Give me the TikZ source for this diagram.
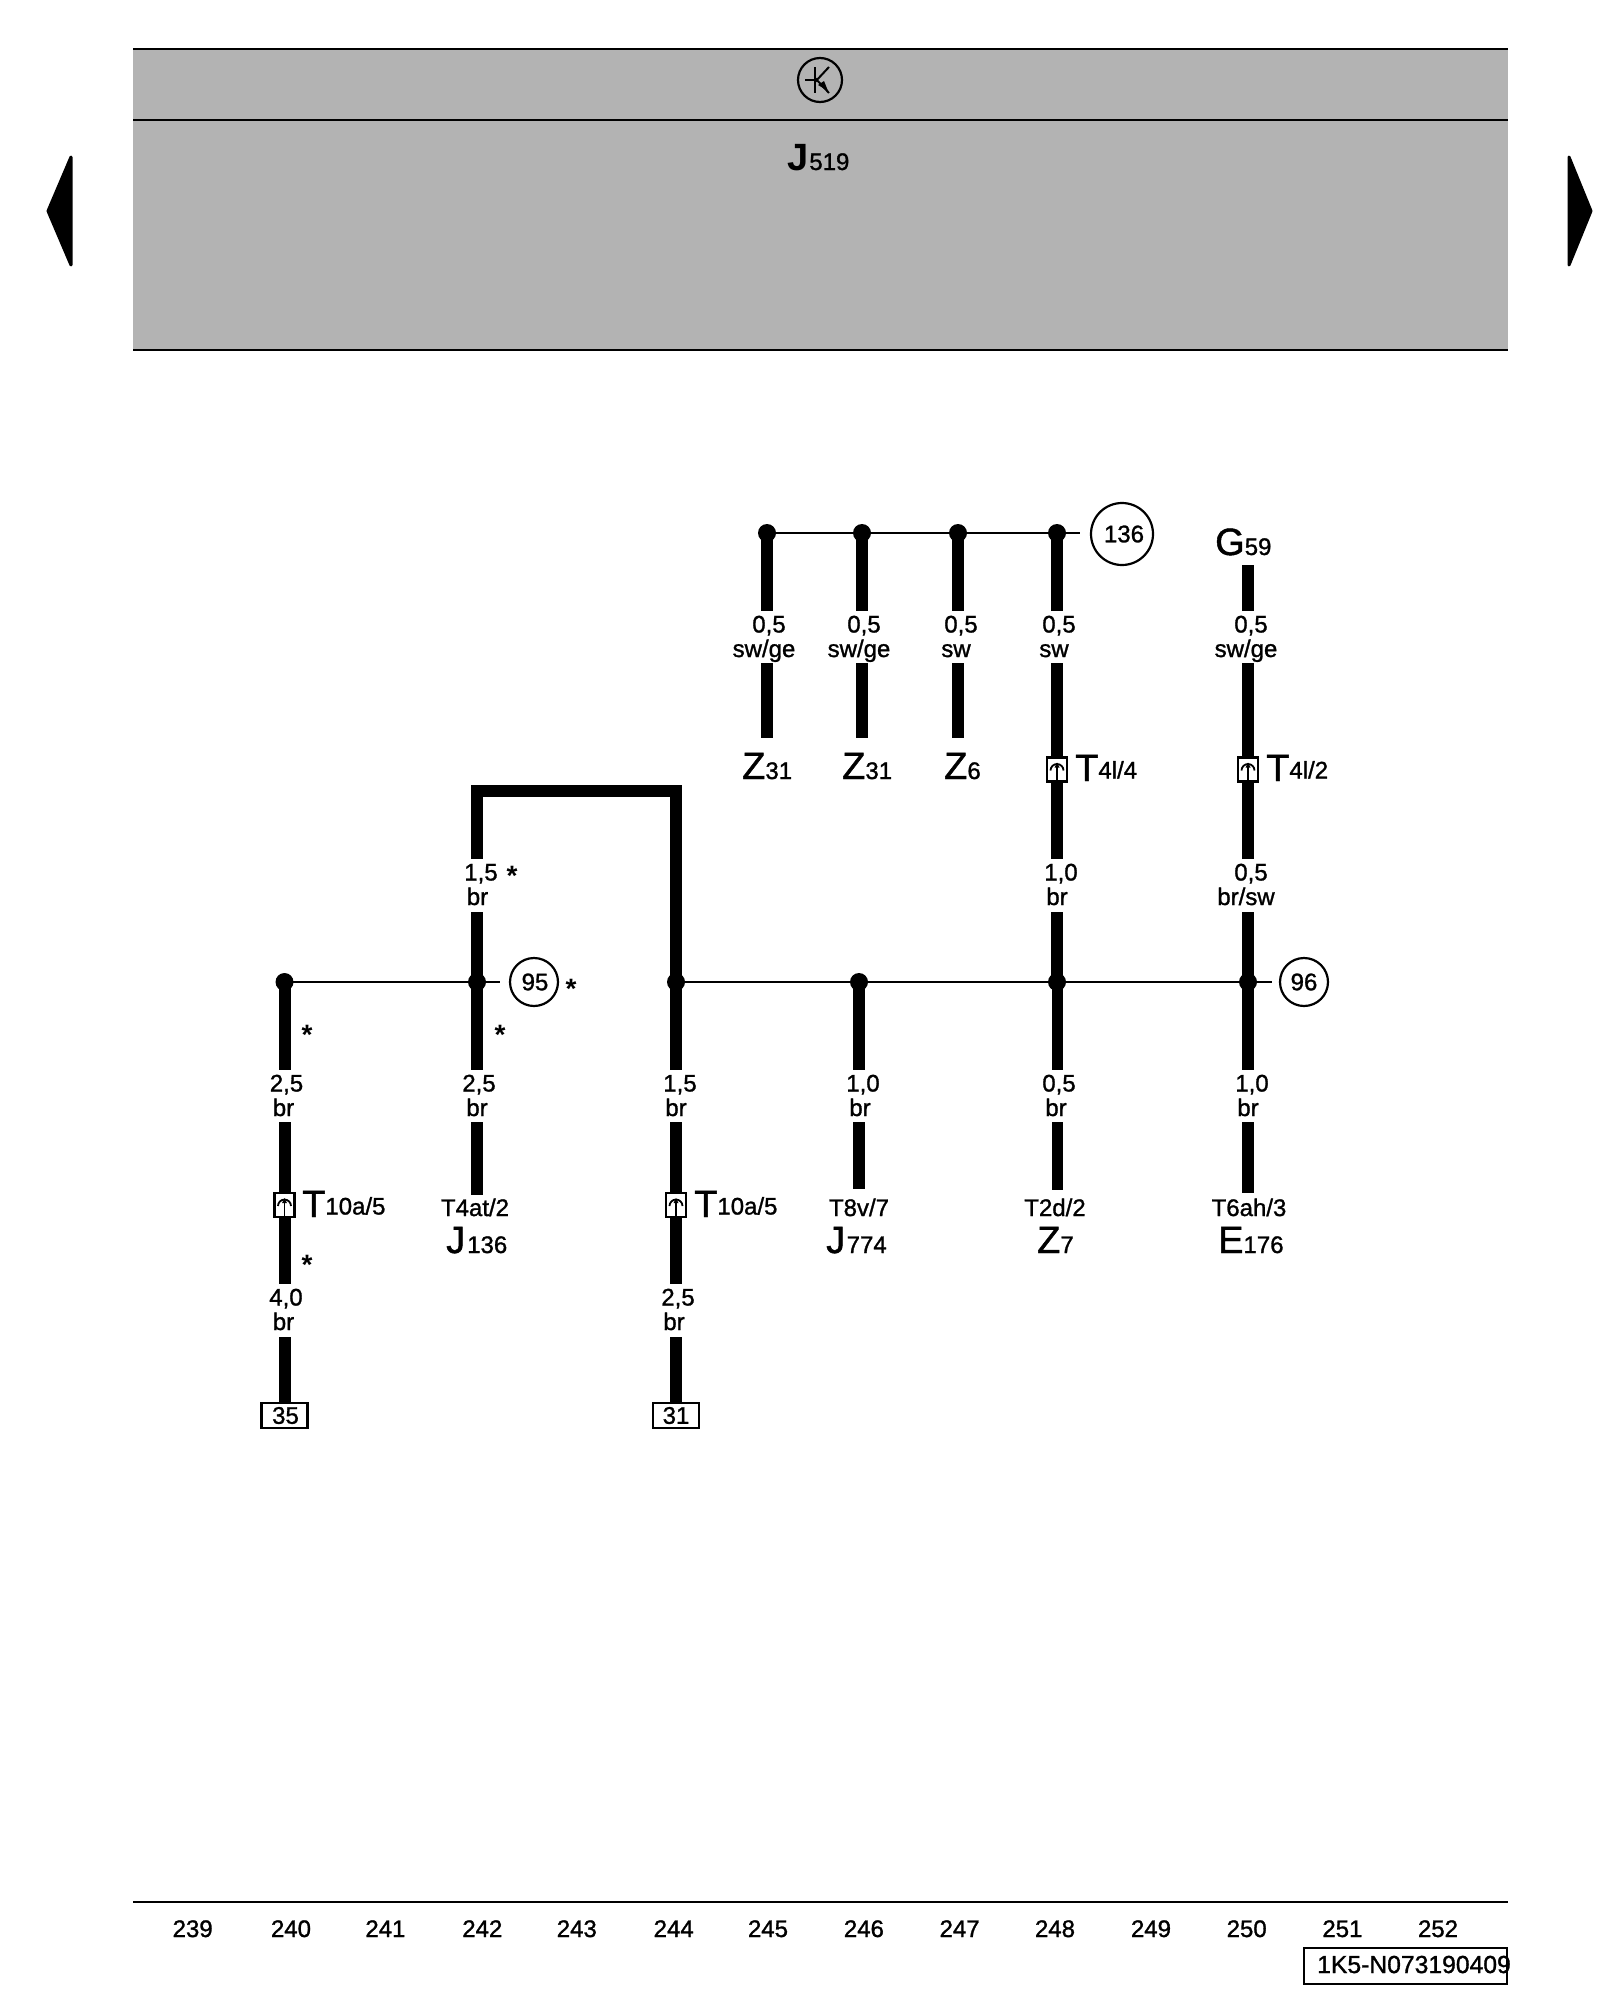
\documentclass[tikz,border=0pt]{standalone}
\usepackage{fontspec}
\setmainfont{Liberation Sans}[FakeBold=1.2]
\newfontfamily\hdfont{Liberation Sans Bold}
\usetikzlibrary{calc}
\newcommand\fs[1]{\fontsize{#1}{#1}\selectfont}
% designation: large letter with smaller index
\newcommand\desig[2]{{\fs{38}#1}{\fs{24}#2}}
\newcommand\tdesig[2]{{\fs{38}\raisebox{-2.5pt}{#1}}{\fs{24}#2}}
\tikzset{
  x=1pt,y=-1pt,
  wire/.style={line width=12pt,line cap=butt,line join=miter,black},
  thin wire/.style={line width=2.2pt,black},
  joint/.style={circle,fill=black,inner sep=0pt,minimum size=18pt},
  bubble/.style={circle,draw=black,line width=2.2pt,inner sep=0pt,font=\fs{24}},
  termbox/.style={rectangle,draw=black,line width=2.2pt,fill=white,inner sep=0pt,minimum width=46pt,minimum height=25pt,font=\fs{24}},
  plug/.style={rectangle,draw=black,line width=2.2pt,fill=white,inner sep=0pt,minimum width=20pt,minimum height=24pt},
  gaplabel/.style={inner sep=0pt,outer sep=0pt,minimum width=12pt},
  txt/.style={inner sep=0pt,anchor=base,font=\fs{24}},
  txtw/.style={inner sep=0pt,anchor=base west},
  star/.style={inner sep=0pt,anchor=base,font=\hdfont\fs{28}},
  rule/.style={line width=2.5pt,black},
}
% two-line wire label filling a gap of the wire: name,x,ytop,ybottom,dx1,text1,dx2,text2
\newcommand\wl[8]{%
  \pgfmathsetmacro\wlh{#4-#3}%
  \node[gaplabel] (#1) at (#2,{(#3+#4)/2}) {\vbox to \wlh pt{\offinterlineskip\vskip 21.5pt
     \hbox to 0pt{\hss\kern #5pt\kern #5pt\smash{#6}\hss}\vskip 24.5pt
     \hbox to 0pt{\hss\kern #7pt\kern #7pt\smash{#8}\hss}\vfil}};}
% plug connector: name,x,ycentre
\newcommand\plugat[3]{%
  \node[plug] (#1) at (#2,#3) {};
  \draw[line width=1.8pt] ($(#1.center)+(-6.5,1)$) arc[start angle=180,end angle=360,radius=6.5];
  \draw[line width=1.8pt] ($(#1.center)+(0,-4)$) -- (#1.south);
  \fill ($(#1.center)+(0,-7)$) -- ++(-2.5,5) -- ++(5,0) -- cycle;}
\begin{document}
\begin{tikzpicture}
\useasboundingbox (0,0) rectangle (1600,2000);
\fill[white] (0,0) rectangle (1600,2000);
\fs{24}
% header band
\fill[fill={rgb,255:red,179;green,179;blue,179}] (133,49) rectangle (1508,350);
\draw[rule] (133,49) -- (1508,49);
\draw[rule] (133,120) -- (1508,120);
\draw[rule] (133,350) -- (1508,350);
% transistor symbol
\node[circle,draw=black,line width=2.2pt,minimum size=44pt,inner sep=0pt] (ts) at (820,80) {};
\draw[line width=2pt] ($(ts.center)+(-5,-13)$) -- ($(ts.center)+(-5,13)$);
\draw[line width=2pt] ($(ts.center)+(-15,0)$) -- ($(ts.center)+(-5,0)$);
\draw[line width=2pt] ($(ts.center)+(-5,2)$) -- ($(ts.center)+(9,-13)$);
\draw[line width=2pt] ($(ts.center)+(-5,-2)$) -- ($(ts.center)+(9,13)$);
\fill ($(ts.center)+(8,11)$) -- ($(ts.center)+(-2,5)$) -- ($(ts.center)+(4,1)$) -- cycle;
\node[txtw] (j519) at (787,170) {{\hdfont\fs{38}J}{\fs{24}\kern 1pt 519}};
% page arrows
\fill[line width=3pt,line join=round,draw=black] (48,211) -- (71,157) -- (71,265) -- cycle;
\fill[line width=3pt,line join=round,draw=black] (1591,211) -- (1569,157) -- (1569,265) -- cycle;

% junctions
\node[joint] (ja) at (284.5,982) {};
\node[joint] (jb) at (477,982) {};
\node[joint] (jc) at (676,982) {};
\node[joint] (jd) at (859,982) {};
\node[joint] (je) at (1057,982) {};
\node[joint] (jf) at (1248,982) {};
\node[joint] (t1) at (767,533) {};
\node[joint] (t2) at (862,533) {};
\node[joint] (t3) at (958,533) {};
\node[joint] (t4) at (1057,533) {};
% bubbles
\node[bubble,minimum size=48pt] (n95) at (534,982) {\kern 2pt 95};
\node[bubble,minimum size=48pt] (n96) at (1304,982) {96};
\node[bubble,minimum size=62pt] (n136) at (1122,534) {\kern 4pt 136};
\coordinate (e95) at (500,982);
\coordinate (e96) at (1272,982);
\coordinate (e136) at (1080,533);
\coordinate (tb) at (477,791);
\coordinate (tc) at (676,791);
\coordinate (ej136) at (477,1195);
\coordinate (ej774) at (859,1189);
\coordinate (ez7) at (1057,1190);
\coordinate (ee176) at (1248,1193);
\coordinate (eg59) at (1248,565);
\coordinate (ez31a) at (767,738);
\coordinate (ez31b) at (862,738);
\coordinate (ez6) at (958,738);
% thin buses
\draw[thin wire] (ja.center) -- (jb.center) -- (e95);
\draw[thin wire] (jc.center) -- (jd.center) -- (je.center) -- (jf.center) -- (e96);
\draw[thin wire] (t1.center) -- (t2.center) -- (t3.center) -- (t4.center) -- (e136);

% wire labels
\wl{la1}{284.5}{1070}{1122}{2}{2,5}{-1}{br}
\wl{la2}{284.5}{1284}{1337}{1.5}{4,0}{-1}{br}
\wl{lb1}{477}{1070}{1122}{2}{2,5}{0}{br}
\wl{lb2}{477}{859}{912}{4}{1,5}{0.5}{br}
\wl{lc1}{676}{1070}{1122}{4}{1,5}{0}{br}
\wl{lc2}{676}{1284}{1337}{2}{2,5}{-2}{br}
\wl{ld1}{859}{1070}{1122}{4}{1,0}{1}{br}
\wl{le1}{1057}{1070}{1122}{2}{0,5}{-1}{br}
\wl{le2}{1057}{859}{912}{4}{1,0}{0}{br}
\wl{lf1}{1248}{1070}{1122}{4}{1,0}{0}{br}
\wl{lf2}{1248}{859}{912}{3}{0,5}{-2}{br/sw}
\wl{lt1}{767}{611}{663}{2}{0,5}{-3}{sw/ge}
\wl{lt2}{862}{611}{663}{2}{0,5}{-3}{sw/ge}
\wl{lt3}{958}{611}{663}{3}{0,5}{-2}{sw}
\wl{lt4}{1057}{611}{663}{2}{0,5}{-3}{sw}
\wl{lt5}{1248}{611}{663}{3}{0,5}{-2}{sw/ge}

% plugs
\plugat{pa}{284.5}{1205}
\plugat{pc}{676}{1205}
\plugat{pe}{1057}{769.5}
\plugat{pf}{1248}{769.5}
\node[txtw] (ta) at (302,1214.5) {\tdesig{T}{10a/5}};
\node[txtw] (tcl) at (694,1214.5) {\tdesig{T}{10a/5}};
\node[txtw] (te) at (1075,778.5) {\tdesig{T}{4l/4}};
\node[txtw] (tf) at (1266,778.5) {\tdesig{T}{4l/2}};

% terminals
\node[termbox] (b35) at (284.5,1415.5) {\kern 2pt 35};
\node[termbox] (b31) at (676,1415.5) {31};

% end designations
\node[txt] (tj136) at (475,1216) {T4at/2};
\node[txt] (tj774) at (859,1216) {T8v/7};
\node[txt] (tz7) at (1055,1216) {T2d/2};
\node[txt] (te176) at (1249,1216) {T6ah/3};
\node[txtw] (j136) at (446,1253) {\desig{J}{\kern 2pt 136}};
\node[txtw] (j774) at (826,1253) {\desig{J}{\kern 1.5pt 774}};
\node[txtw] (z7) at (1037,1253) {\desig{Z}{7}};
\node[txtw] (e176) at (1218,1253) {\desig{E}{176}};
\node[txtw] (z31a) at (742,779) {\desig{Z}{31}};
\node[txtw] (z31b) at (842,779) {\desig{Z}{31}};
\node[txtw] (z6) at (944,779) {\desig{Z}{6}};
\node[txtw] (g59) at (1215,555) {\desig{G}{59}};

% stars
\node[star] at (307,1044) {*};
\node[star] at (500,1044) {*};
\node[star] at (307,1274) {*};
\node[star] at (571,998) {*};
\node[star] at (512,885) {*};

% thick wires
\draw[wire] (ja.center) -- (la1.north);
\draw[wire] (la1.south) -- (pa.north);
\draw[wire] (pa.south) -- (la2.north);
\draw[wire] (la2.south) -- (b35.north);
\draw[wire] (jb.center) -- (lb1.north);
\draw[wire] (lb1.south) -- (ej136);
\draw[wire] (jb.center) -- (lb2.south);
\draw[wire] (lb2.north) -- (tb) -- (tc) -- (jc.center);
\draw[wire] (jc.center) -- (lc1.north);
\draw[wire] (lc1.south) -- (pc.north);
\draw[wire] (pc.south) -- (lc2.north);
\draw[wire] (lc2.south) -- (b31.north);
\draw[wire] (jd.center) -- (ld1.north);
\draw[wire] (ld1.south) -- (ej774);
\draw[wire,line width=11pt] (je.center) -- (le1.north);
\draw[wire,line width=11pt] (le1.south) -- (ez7);
\draw[wire] (jf.center) -- (lf1.north);
\draw[wire] (lf1.south) -- (ee176);
\draw[wire] (je.center) -- (le2.south);
\draw[wire] (le2.north) -- (pe.south);
\draw[wire] (pe.north) -- (lt4.south);
\draw[wire] (lt4.north) -- (t4.center);
\draw[wire] (jf.center) -- (lf2.south);
\draw[wire] (lf2.north) -- (pf.south);
\draw[wire] (pf.north) -- (lt5.south);
\draw[wire] (lt5.north) -- (eg59);
\draw[wire] (t1.center) -- (lt1.north);
\draw[wire] (lt1.south) -- (ez31a);
\draw[wire] (t2.center) -- (lt2.north);
\draw[wire] (lt2.south) -- (ez31b);
\draw[wire] (t3.center) -- (lt3.north);
\draw[wire] (lt3.south) -- (ez6);

% footer
\draw[rule] (133,1902) -- (1508,1902);
\foreach \n/\px in {239/192.7,240/291,241/385.4,242/482.3,243/576.8,244/673.7,245/768,246/863.9,247/959.6,248/1055,249/1151,250/1246.7,251/1342.4,252/1438}{
  \node[txt] (p\n) at (\px,1937) {\n};
}
\node[rectangle,draw=black,line width=2.2pt,minimum width=203pt,minimum height=36pt,inner sep=0pt] (idbox) at (1405.5,1966) {};
\node[txtw,font=\fs{24.7}] (idtxt) at (1317,1973) {1K5-N073190409};
\end{tikzpicture}
\end{document}
